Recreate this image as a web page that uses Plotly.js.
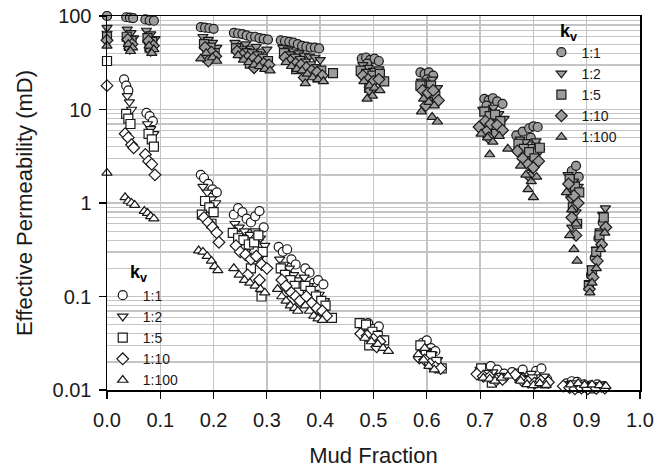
<!DOCTYPE html>
<html>
<head>
<meta charset="utf-8">
<script src="https://cdn.plot.ly/plotly-3.0.1.min.js"></script>
<style>html,body{margin:0;padding:0;background:#fff;}#chart{width:672px;height:468px;}</style>
</head>
<body>
<div id="chart"></div>
<script>
// ---- Data ----
const kvLabels = ['1:1', '1:2', '1:5', '1:10', '1:100'];
const xTickVals = [0, 0.1, 0.2, 0.3, 0.4, 0.5, 0.6, 0.7, 0.8, 0.9, 1.0];

// Upper (filled) branch
const up11x = [0.0, 0.036, 0.043, 0.049, 0.072, 0.080, 0.088, 0.176, 0.184, 0.192, 0.200, 0.238, 0.246, 0.254, 0.262, 0.270, 0.278, 0.286, 0.294, 0.302, 0.326, 0.334, 0.342, 0.350, 0.358, 0.366, 0.374, 0.382, 0.390, 0.398, 0.478, 0.486, 0.494, 0.502, 0.510, 0.488, 0.588, 0.596, 0.604, 0.612, 0.600, 0.708, 0.716, 0.724, 0.732, 0.742, 0.712, 0.722, 0.768, 0.780, 0.792, 0.800, 0.808, 0.795, 0.805, 0.872, 0.880, 0.885, 0.868, 0.875, 0.930, 0.922, 0.915, 0.908];
const up11y = [100, 97, 96, 95, 92, 90, 89, 76, 75, 74, 73, 66, 65, 64, 62, 60, 60, 58, 57, 56, 55, 54, 53, 52, 50, 48, 47, 46, 46, 45, 35, 36, 34, 35, 33, 31, 25, 24, 25, 23, 21, 13.0, 12.5, 13.2, 12.2, 11.5, 11, 9.5, 5.3, 5.8, 6.3, 6.6, 6.5, 5.0, 4.2, 2.2, 2.5, 1.9, 1.3, 0.9, 0.62, 0.42, 0.26, 0.17];

const up12x = [0.0, 0.038, 0.045, 0.050, 0.040, 0.074, 0.082, 0.090, 0.078, 0.180, 0.190, 0.198, 0.206, 0.186, 0.240, 0.250, 0.260, 0.270, 0.280, 0.290, 0.300, 0.256, 0.285, 0.330, 0.340, 0.350, 0.360, 0.370, 0.380, 0.390, 0.400, 0.345, 0.385, 0.480, 0.490, 0.500, 0.510, 0.495, 0.590, 0.600, 0.610, 0.620, 0.605, 0.705, 0.715, 0.725, 0.735, 0.745, 0.720, 0.775, 0.785, 0.795, 0.805, 0.812, 0.790, 0.865, 0.875, 0.884, 0.870, 0.880, 0.872, 0.935, 0.930, 0.925, 0.918, 0.910, 0.905];
const up12y = [75, 72, 66, 58, 52, 70, 64, 57, 50, 60, 56, 52, 46, 42, 52, 48, 50, 45, 47, 42, 44, 38, 36, 46, 44, 42, 40, 38, 37, 36, 34, 32, 28, 30, 28, 26, 27, 22, 20, 19, 21, 17, 14, 10, 9.5, 10.5, 9, 8, 7, 4.8, 4.5, 4.0, 4.6, 3.6, 3.2, 2.0, 1.7, 1.5, 1.1, 0.8, 0.55, 0.88, 0.75, 0.5, 0.32, 0.2, 0.14];

const up15x = [0.0, 0.037, 0.046, 0.041, 0.076, 0.085, 0.080, 0.182, 0.194, 0.202, 0.188, 0.242, 0.252, 0.262, 0.272, 0.282, 0.292, 0.302, 0.268, 0.296, 0.332, 0.342, 0.352, 0.362, 0.372, 0.382, 0.392, 0.402, 0.424, 0.355, 0.395, 0.476, 0.486, 0.498, 0.512, 0.520, 0.492, 0.588, 0.598, 0.608, 0.616, 0.602, 0.708, 0.718, 0.728, 0.738, 0.712, 0.730, 0.772, 0.782, 0.792, 0.802, 0.812, 0.798, 0.868, 0.878, 0.886, 0.874, 0.882, 0.932, 0.924, 0.918, 0.910, 0.904];
const up15y = [60, 60, 54, 48, 58, 53, 46, 50, 46, 40, 36, 45, 42, 40, 39, 37, 35, 33, 31, 30, 40, 37, 35, 33, 31, 29, 27, 26, 24.5, 27, 22, 26, 24, 23, 24, 20, 17, 18, 16, 18, 14, 12, 9.5, 8.5, 8.8, 7.5, 6.0, 5.5, 4.3, 3.8, 3.5, 3.0, 3.9, 2.5, 1.8, 1.5, 1.3, 0.9, 0.6, 0.7, 0.45, 0.3, 0.19, 0.13];

const up110x = [0.0, 0.039, 0.047, 0.043, 0.078, 0.087, 0.082, 0.184, 0.196, 0.204, 0.190, 0.244, 0.254, 0.264, 0.274, 0.284, 0.294, 0.304, 0.276, 0.334, 0.344, 0.354, 0.364, 0.374, 0.384, 0.394, 0.404, 0.370, 0.480, 0.490, 0.500, 0.510, 0.494, 0.592, 0.602, 0.612, 0.622, 0.598, 0.698, 0.710, 0.720, 0.732, 0.742, 0.716, 0.770, 0.780, 0.790, 0.800, 0.810, 0.794, 0.866, 0.876, 0.884, 0.872, 0.880, 0.936, 0.928, 0.920, 0.912, 0.905];
const up110y = [55, 56, 50, 45, 54, 48, 43, 46, 41, 37, 33, 42, 38, 36, 35, 33, 31, 30, 28, 36, 33, 31, 30, 28, 26, 25, 23, 22, 23, 21, 20, 21, 16, 16, 15, 16, 12.5, 11, 6.5, 7.5, 7.0, 6.8, 6.0, 5.0, 3.6, 3.0, 2.6, 2.4, 2.8, 1.9, 1.6, 1.2, 1.0, 0.7, 0.45, 0.55, 0.36, 0.24, 0.16, 0.12];

const up1100x = [0.0, 0.040, 0.048, 0.044, 0.079, 0.088, 0.084, 0.186, 0.198, 0.206, 0.176, 0.246, 0.256, 0.266, 0.276, 0.286, 0.296, 0.306, 0.336, 0.346, 0.356, 0.366, 0.376, 0.386, 0.396, 0.406, 0.372, 0.482, 0.492, 0.502, 0.512, 0.498, 0.488, 0.594, 0.604, 0.614, 0.590, 0.610, 0.620, 0.702, 0.714, 0.724, 0.736, 0.718, 0.752, 0.776, 0.786, 0.796, 0.806, 0.790, 0.800, 0.862, 0.872, 0.880, 0.868, 0.876, 0.882, 0.934, 0.926, 0.918, 0.910, 0.906];
const up1100y = [48, 50, 46, 42, 48, 44, 40, 40, 36, 33, 35, 38, 34, 32, 30, 29, 27, 26, 32, 29, 27, 26, 24, 22, 21, 20, 19, 20, 18, 17, 16, 14, 13, 13, 12, 11, 9.5, 8.3, 7.4, 5.5, 5.0, 4.5, 5.2, 3.3, 3.8, 2.5, 2.0, 1.7, 1.9, 1.4, 1.15, 1.3, 0.85, 0.6, 0.45, 0.32, 0.24, 0.48, 0.32, 0.2, 0.14, 0.11];

// Lower (open) branch
const lo11x = [0.0, 0.032, 0.036, 0.040, 0.074, 0.080, 0.086, 0.176, 0.182, 0.190, 0.198, 0.206, 0.238, 0.246, 0.254, 0.262, 0.270, 0.278, 0.286, 0.294, 0.250, 0.275, 0.322, 0.330, 0.338, 0.346, 0.354, 0.340, 0.372, 0.380, 0.388, 0.396, 0.406, 0.392, 0.402, 0.478, 0.490, 0.500, 0.510, 0.495, 0.592, 0.600, 0.608, 0.616, 0.600, 0.698, 0.708, 0.720, 0.732, 0.745, 0.760, 0.770, 0.780, 0.792, 0.805, 0.815, 0.826, 0.862, 0.872, 0.882, 0.895, 0.908, 0.920, 0.932];
const lo11y = [100, 21, 18, 16, 9.2, 8.5, 7.5, 2.0, 1.85, 1.6, 1.4, 1.3, 0.75, 0.88, 0.8, 0.68, 0.62, 0.72, 0.82, 0.55, 0.45, 0.38, 0.34, 0.3, 0.32, 0.25, 0.22, 0.17, 0.2, 0.18, 0.14, 0.15, 0.135, 0.1, 0.08, 0.05, 0.052, 0.045, 0.048, 0.038, 0.032, 0.034, 0.028, 0.026, 0.022, 0.0155, 0.017, 0.018, 0.0165, 0.015, 0.0155, 0.015, 0.0165, 0.014, 0.016, 0.017, 0.013, 0.0118, 0.0124, 0.0122, 0.0115, 0.0112, 0.0115, 0.011];

const lo12x = [0.0, 0.038, 0.042, 0.046, 0.076, 0.082, 0.088, 0.180, 0.188, 0.196, 0.204, 0.192, 0.240, 0.248, 0.258, 0.268, 0.278, 0.288, 0.296, 0.260, 0.284, 0.324, 0.332, 0.342, 0.350, 0.358, 0.336, 0.370, 0.378, 0.388, 0.398, 0.408, 0.384, 0.480, 0.492, 0.504, 0.514, 0.498, 0.590, 0.600, 0.610, 0.620, 0.606, 0.700, 0.712, 0.724, 0.736, 0.748, 0.772, 0.784, 0.796, 0.808, 0.820, 0.860, 0.870, 0.880, 0.892, 0.904, 0.916, 0.928];
const lo12y = [65, 14, 12, 10, 7, 6.2, 5.5, 1.5, 1.3, 1.1, 1.0, 0.85, 0.6, 0.55, 0.5, 0.46, 0.5, 0.42, 0.35, 0.3, 0.25, 0.25, 0.22, 0.2, 0.17, 0.15, 0.12, 0.16, 0.13, 0.11, 0.105, 0.09, 0.075, 0.046, 0.044, 0.04, 0.036, 0.032, 0.028, 0.026, 0.024, 0.021, 0.019, 0.0165, 0.015, 0.0155, 0.014, 0.0135, 0.0145, 0.0135, 0.015, 0.0128, 0.014, 0.0112, 0.0116, 0.0108, 0.0112, 0.0108, 0.0111, 0.0106];

const lo15x = [0.0, 0.036, 0.040, 0.044, 0.078, 0.084, 0.088, 0.184, 0.192, 0.200, 0.178, 0.196, 0.236, 0.246, 0.256, 0.266, 0.276, 0.284, 0.292, 0.270, 0.290, 0.326, 0.334, 0.344, 0.352, 0.360, 0.346, 0.372, 0.382, 0.392, 0.402, 0.410, 0.422, 0.474, 0.486, 0.498, 0.508, 0.520, 0.492, 0.588, 0.598, 0.608, 0.618, 0.628, 0.702, 0.714, 0.726, 0.738, 0.722, 0.774, 0.786, 0.798, 0.810, 0.822, 0.864, 0.874, 0.886, 0.898, 0.912, 0.924];
const lo15y = [33, 9, 8, 7, 5.5, 4.8, 4.0, 1.05, 0.9, 0.8, 0.75, 0.6, 0.48, 0.42, 0.4, 0.36, 0.38, 0.45, 0.3, 0.2, 0.1, 0.2, 0.17, 0.15, 0.13, 0.11, 0.09, 0.13, 0.115, 0.1, 0.09, 0.08, 0.059, 0.052, 0.05, 0.042, 0.038, 0.034, 0.03, 0.03, 0.025, 0.023, 0.02, 0.017, 0.017, 0.0145, 0.013, 0.0135, 0.012, 0.0135, 0.0125, 0.013, 0.012, 0.0118, 0.0108, 0.0112, 0.0105, 0.0108, 0.0104, 0.0107];

const lo110x = [0.0, 0.034, 0.040, 0.046, 0.050, 0.072, 0.078, 0.084, 0.090, 0.182, 0.190, 0.198, 0.206, 0.210, 0.242, 0.250, 0.260, 0.270, 0.280, 0.290, 0.300, 0.264, 0.286, 0.328, 0.336, 0.346, 0.354, 0.362, 0.374, 0.384, 0.394, 0.404, 0.412, 0.476, 0.488, 0.500, 0.512, 0.506, 0.586, 0.596, 0.606, 0.616, 0.626, 0.694, 0.706, 0.718, 0.730, 0.742, 0.766, 0.778, 0.790, 0.802, 0.814, 0.828, 0.856, 0.868, 0.878, 0.890, 0.902, 0.918, 0.934];
const lo110y = [18, 5.5, 5.0, 4.2, 3.9, 3.3, 2.8, 2.6, 2.0, 0.7, 0.62, 0.55, 0.48, 0.38, 0.35, 0.3, 0.28, 0.25, 0.27, 0.22, 0.2, 0.17, 0.15, 0.15, 0.13, 0.11, 0.1, 0.09, 0.1, 0.085, 0.075, 0.07, 0.062, 0.04, 0.038, 0.035, 0.033, 0.029, 0.022, 0.021, 0.019, 0.0175, 0.017, 0.0148, 0.014, 0.0138, 0.0128, 0.013, 0.0145, 0.0128, 0.0122, 0.0118, 0.0125, 0.0121, 0.011, 0.0106, 0.0103, 0.0105, 0.0103, 0.0104, 0.0105];

const lo1100x = [0.0, 0.034, 0.040, 0.046, 0.052, 0.070, 0.076, 0.082, 0.088, 0.172, 0.180, 0.188, 0.196, 0.202, 0.208, 0.238, 0.248, 0.258, 0.268, 0.278, 0.288, 0.296, 0.320, 0.328, 0.336, 0.344, 0.352, 0.358, 0.372, 0.380, 0.388, 0.396, 0.404, 0.484, 0.496, 0.508, 0.518, 0.528, 0.584, 0.594, 0.604, 0.614, 0.596, 0.706, 0.718, 0.728, 0.740, 0.752, 0.776, 0.788, 0.800, 0.812, 0.824, 0.870, 0.884, 0.896, 0.910, 0.924, 0.936];
const lo1100y = [2.1, 1.15, 1.05, 1.0, 0.95, 0.82, 0.78, 0.72, 0.68, 0.31, 0.3, 0.27, 0.24, 0.21, 0.19, 0.2, 0.17, 0.15, 0.14, 0.13, 0.12, 0.11, 0.12, 0.1, 0.09, 0.08, 0.075, 0.07, 0.08, 0.07, 0.062, 0.058, 0.056, 0.036, 0.033, 0.031, 0.028, 0.026, 0.024, 0.021, 0.018, 0.0165, 0.028, 0.0135, 0.0132, 0.0125, 0.0135, 0.0142, 0.0125, 0.0115, 0.0112, 0.0118, 0.0113, 0.0114, 0.0118, 0.0113, 0.0114, 0.0112, 0.0110];

// ---- Build traces ----
const symbols = ['circle', 'triangle-down', 'square', 'diamond', 'triangle-up'];
const upperX = [up11x, up12x, up15x, up110x, up1100x];
const upperY = [up11y, up12y, up15y, up110y, up1100y];
const lowerX = [lo11x, lo12x, lo15x, lo110x, lo1100x];
const lowerY = [lo11y, lo12y, lo15y, lo110y, lo1100y];

const edge = '#1a1a1a';
const traces = [];
for (let i = 0; i < 5; i++) {
  traces.push({
    type: 'scatter', mode: 'markers',
    x: lowerX[i], y: lowerY[i], name: kvLabels[i],
    legend: 'legend2',
    marker: {symbol: symbols[i], size: 9, color: '#ffffff', line: {color: edge, width: 1.2}},
    cliponaxis: false
  });
}
for (let i = 0; i < 5; i++) {
  traces.push({
    type: 'scatter', mode: 'markers',
    x: upperX[i], y: upperY[i], name: kvLabels[i],
    legend: 'legend',
    marker: {symbol: symbols[i], size: 9, color: '#9c9c9c', line: {color: edge, width: 1.2}},
    cliponaxis: false
  });
}

const fontFam = '"Liberation Sans", Arial, sans-serif';
const gridC = '#c4c4c4';
const layout = {
  width: 672, height: 468,
  margin: {l: 107, r: 32, t: 16, b: 78, pad: 0},
  paper_bgcolor: '#ffffff', plot_bgcolor: '#ffffff',
  font: {family: fontFam, size: 19, color: '#1a1a1a'},
  showlegend: true,
  xaxis: {
    range: [0, 1], tickvals: xTickVals, tickformat: '.1f',
    showgrid: true, gridcolor: gridC, gridwidth: 1.5,
    zeroline: false, showline: true, linecolor: '#000', linewidth: 1.5, mirror: true,
    ticks: 'outside', ticklen: 7, tickcolor: '#000', tickwidth: 1.2,
    ticklabelstandoff: 4,
    tickfont: {size: 20, family: fontFam, color: '#1a1a1a'},
    title: {text: 'Mud Fraction', font: {size: 22, family: fontFam, color: '#1a1a1a'}, standoff: 20},
    automargin: false
  },
  yaxis: {
    type: 'log', range: [-2, 2], dtick: 1,
    showgrid: true, gridcolor: gridC, gridwidth: 1.5,
    minor: {dtick: 'D1', showgrid: true, gridcolor: gridC, gridwidth: 1.3, ticks: ''},
    zeroline: false, showline: true, linecolor: '#000', linewidth: 1.5, mirror: true,
    ticks: 'outside', ticklen: 7, tickcolor: '#000', tickwidth: 1.2,
    ticklabelstandoff: 3,
    tickfont: {size: 20, family: fontFam, color: '#1a1a1a'},
    title: {text: 'Effective Permeability (mD)', font: {size: 22, family: fontFam, color: '#1a1a1a'}, standoff: 14},
    automargin: false
  },
  legend: {
    x: 0.815, y: 0.945, xanchor: 'left', yanchor: 'top',
    bgcolor: 'rgba(0,0,0,0)', borderwidth: 0,
    font: {size: 14, family: fontFam, color: '#1a1a1a'},
    tracegroupgap: 0, itemsizing: 'trace'
  },
  legend2: {
    x: -0.008, y: -0.015, xanchor: 'left', yanchor: 'bottom',
    bgcolor: 'rgba(0,0,0,0)', borderwidth: 0,
    font: {size: 14, family: fontFam, color: '#1a1a1a'},
    tracegroupgap: 0, itemsizing: 'trace'
  },
  annotations: [
    {xref: 'paper', yref: 'paper', x: 0.865, y: 0.955, xanchor: 'center', yanchor: 'middle',
     text: '<b>k<sub>v</sub></b>', showarrow: false, font: {size: 18, family: fontFam, color: '#000'}},
    {xref: 'paper', yref: 'paper', x: 0.06, y: 0.312, xanchor: 'center', yanchor: 'middle',
     text: '<b>k<sub>v</sub></b>', showarrow: false, font: {size: 18, family: fontFam, color: '#000'}}
  ]
};

Plotly.newPlot('chart', traces, layout, {displayModeBar: false, staticPlot: true});
</script>
</body>
</html>
